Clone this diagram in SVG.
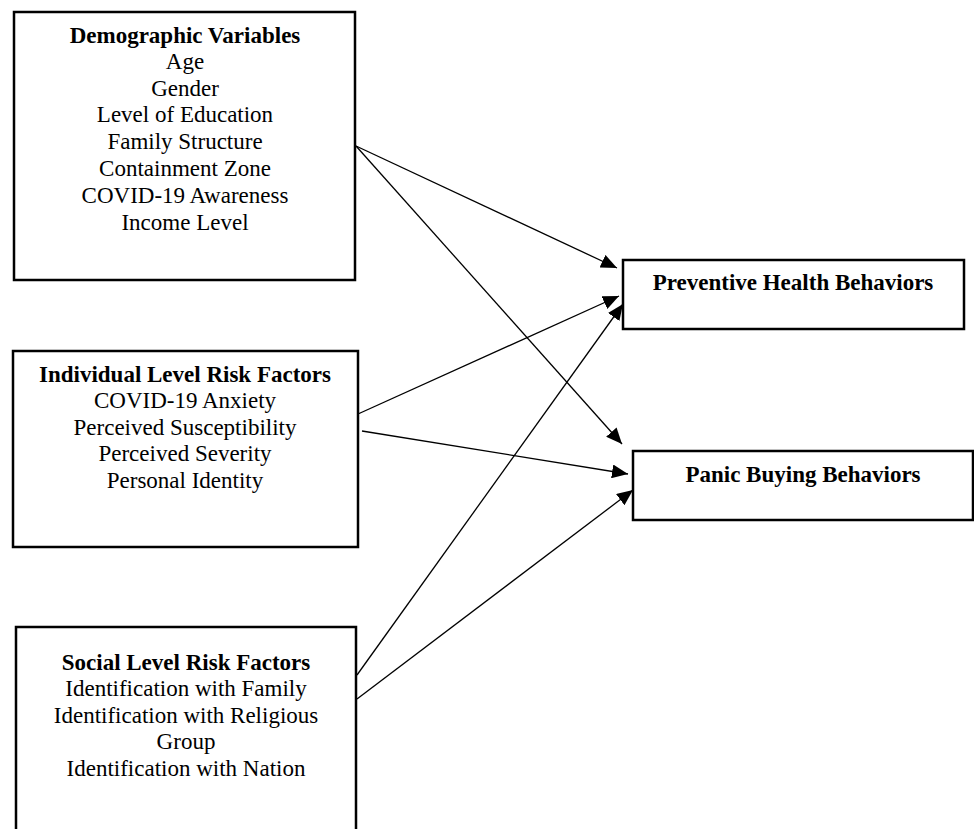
<svg xmlns="http://www.w3.org/2000/svg" width="974" height="829" viewBox="0 0 974 829">
<style>
.box{fill:#fff;stroke:#000;stroke-width:2.5}
.t{font-family:"Liberation Serif","Times New Roman",serif;font-size:23px;fill:#000;text-anchor:middle}
.b{font-weight:bold}
.c{stroke:#000;stroke-width:1.3;fill:none;marker-end:url(#ah)}
</style>
<defs>
<marker id="ah" markerUnits="userSpaceOnUse" markerWidth="16" markerHeight="14" refX="16" refY="7" orient="auto">
<path d="M0,0 L16,7 L0,14 Z" fill="#000"/>
</marker>
</defs>
<rect width="974" height="829" fill="#fff"/>
<g id="demographic">
<rect class="box" x="14" y="12" width="341" height="268"/>
<text class="t b" x="185" y="43">Demographic Variables</text>
<text class="t" x="185" y="69">Age</text>
<text class="t" x="185" y="96">Gender</text>
<text class="t" x="185" y="122">Level of Education</text>
<text class="t" x="185" y="149">Family Structure</text>
<text class="t" x="185" y="176">Containment Zone</text>
<text class="t" x="185" y="203">COVID-19 Awareness</text>
<text class="t" x="185" y="230">Income Level</text>
</g>
<g id="individual">
<rect class="box" x="13" y="351" width="345" height="196"/>
<text class="t b" x="185" y="382">Individual Level Risk Factors</text>
<text class="t" x="185" y="408">COVID-19 Anxiety</text>
<text class="t" x="185" y="435">Perceived Susceptibility</text>
<text class="t" x="185" y="461">Perceived Severity</text>
<text class="t" x="185" y="488">Personal Identity</text>
</g>
<g id="social">
<rect class="box" x="16" y="627" width="340" height="215"/>
<text class="t b" x="186" y="670">Social Level Risk Factors</text>
<text class="t" x="186" y="696">Identification with Family</text>
<text class="t" x="186" y="723">Identification with Religious</text>
<text class="t" x="186" y="749">Group</text>
<text class="t" x="186" y="776">Identification with Nation</text>
</g>
<g id="preventive">
<rect class="box" x="623" y="260" width="341" height="69"/>
<text class="t b" x="793" y="290">Preventive Health Behaviors</text>
</g>
<g id="panic">
<rect class="box" x="633" y="451" width="340" height="69"/>
<text class="t b" x="803" y="482">Panic Buying Behaviors</text>
</g>
<g id="connectors">
<line class="c" x1="356" y1="146" x2="617" y2="268"/>
<line class="c" x1="356" y1="146" x2="622" y2="444"/>
<line class="c" x1="358" y1="414" x2="619" y2="296"/>
<line class="c" x1="362" y1="431" x2="628" y2="474"/>
<line class="c" x1="357" y1="675" x2="623" y2="304"/>
<line class="c" x1="357" y1="699" x2="633" y2="490"/>
</g>
</svg>
